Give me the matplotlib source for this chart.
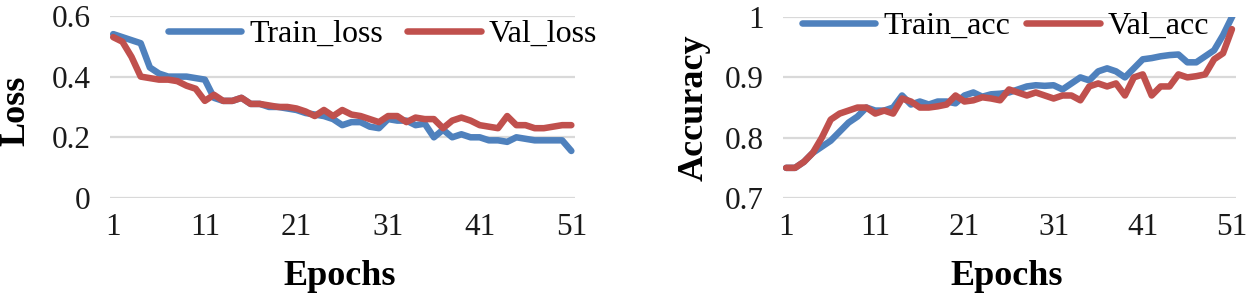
import matplotlib
matplotlib.use('Agg')
import matplotlib.pyplot as plt
import numpy as np

plt.rcParams['font.family'] = ['Liberation Serif', 'DejaVu Serif']

epochs = list(range(1, 52))
xtick_vals = [1, 11, 21, 31, 41, 51]

train_loss = [0.54, 0.53, 0.52, 0.51, 0.43, 0.41, 0.40, 0.40, 0.40, 0.395,
              0.39, 0.33, 0.32, 0.32, 0.33, 0.31, 0.31, 0.30, 0.30, 0.295,
              0.29, 0.28, 0.275, 0.27, 0.26, 0.24, 0.25, 0.25, 0.235, 0.23,
              0.26, 0.255, 0.255, 0.24, 0.245, 0.20, 0.225, 0.20, 0.21, 0.20,
              0.20, 0.19, 0.19, 0.185, 0.20, 0.195, 0.19, 0.19, 0.19, 0.19,
              0.155]
val_loss = [0.53, 0.515, 0.465, 0.40, 0.395, 0.39, 0.39, 0.385, 0.37, 0.36,
            0.32, 0.34, 0.32, 0.32, 0.33, 0.31, 0.31, 0.305, 0.30, 0.30,
            0.295, 0.285, 0.27, 0.29, 0.27, 0.29, 0.275, 0.27, 0.26, 0.25,
            0.27, 0.27, 0.25, 0.265, 0.26, 0.26, 0.23, 0.255, 0.265, 0.255,
            0.24, 0.235, 0.23, 0.27, 0.24, 0.24, 0.23, 0.23, 0.235, 0.24,
            0.24]

train_acc = [0.75, 0.75, 0.76, 0.775, 0.785, 0.795, 0.81, 0.825, 0.835, 0.85,
             0.845, 0.845, 0.85, 0.87, 0.855, 0.86, 0.855, 0.86, 0.86, 0.857,
             0.87, 0.875, 0.868, 0.872, 0.873, 0.875, 0.88, 0.885, 0.887, 0.886,
             0.887, 0.88, 0.89, 0.90, 0.895, 0.91, 0.915, 0.91, 0.90, 0.915,
             0.93, 0.932, 0.935, 0.937, 0.938, 0.925, 0.925, 0.935, 0.945, 0.97,
             1.0]
val_acc = [0.75, 0.75, 0.76, 0.775, 0.80, 0.83, 0.84, 0.845, 0.85, 0.85,
           0.84, 0.845, 0.84, 0.865, 0.86, 0.85, 0.85, 0.852, 0.855, 0.87,
           0.86, 0.862, 0.867, 0.865, 0.862, 0.88, 0.875, 0.87, 0.875, 0.87,
           0.865, 0.87, 0.87, 0.862, 0.885, 0.89, 0.885, 0.89, 0.87, 0.90,
           0.905, 0.87, 0.885, 0.885, 0.905, 0.90, 0.902, 0.905, 0.93, 0.94,
           0.98]

blue = '#4F81BD'
red = '#C0504D'
grid_c = '#D9D9D9'

fig = plt.figure(figsize=(12.5, 3), dpi=100)
ax1 = fig.add_axes([0.088, 0.34, 0.372, 0.607])
ax2 = fig.add_axes([0.6264, 0.34, 0.362, 0.603])


def style(ax, ylim, yticks, yfmt):
    ax.set_xlim(0.65, 51.4)
    ax.set_ylim(*ylim)
    ax.set_xticks(xtick_vals)
    ax.set_xticklabels([str(v) for v in xtick_vals])
    ax.set_yticks(yticks)
    ax.set_yticklabels([yfmt(v) for v in yticks])
    for s in ax.spines.values():
        s.set_visible(False)
    ax.tick_params(length=0, labelsize=22.5, colors='#1a1a1a')
    ax.tick_params(axis='y', pad=14)
    ax.tick_params(axis='x', pad=11)
    ax.grid(axis='y', color=grid_c, lw=1.6)
    ax.set_axisbelow(True)


style(ax1, (0, 0.6), [0, 0.2, 0.4, 0.6], lambda v: '0' if v == 0 else f'{v:.1f}')
ax1.plot(epochs, train_loss, color=blue, lw=4.7, label='Train_loss', solid_capstyle='round')
ax1.plot(epochs, val_loss, color=red, lw=4.7, label='Val_loss', solid_capstyle='round')
ax1.set_ylabel('Loss', fontsize=26, fontweight='bold')
ax1.yaxis.set_label_coords(-0.168, 0.48)
ax1.set_xlabel('Epochs', fontsize=26, fontweight='bold')
ax1.xaxis.set_label_coords(0.495, -0.34)
ax1.legend(loc='center left', bbox_to_anchor=(0.1344, 0.885), bbox_transform=fig.transFigure,
           frameon=False, ncol=2, fontsize=23, handlelength=2.3, handletextpad=0.25,
           columnspacing=0.75, borderpad=0, borderaxespad=0)

style(ax2, (0.7, 1.0), [0.7, 0.8, 0.9, 1.0], lambda v: '1' if v == 1.0 else f'{v:.1f}')
ax2.plot(epochs, train_acc, color=blue, lw=4.7, label='Train_acc', solid_capstyle='round')
ax2.plot(epochs, val_acc, color=red, lw=4.7, label='Val_acc', solid_capstyle='round')
ax2.set_ylabel('Accuracy', fontsize=26, fontweight='bold')
ax2.yaxis.set_label_coords(-0.159, 0.497)
ax2.set_xlabel('Epochs', fontsize=26, fontweight='bold')
ax2.xaxis.set_label_coords(0.495, -0.34)
ax2.legend(loc='center left', bbox_to_anchor=(0.6416, 0.912), bbox_transform=fig.transFigure,
           frameon=False, ncol=2, fontsize=23, handlelength=2.3, handletextpad=0.25,
           columnspacing=0.5, borderpad=0, borderaxespad=0)

fig.savefig('out.png', dpi=100)
